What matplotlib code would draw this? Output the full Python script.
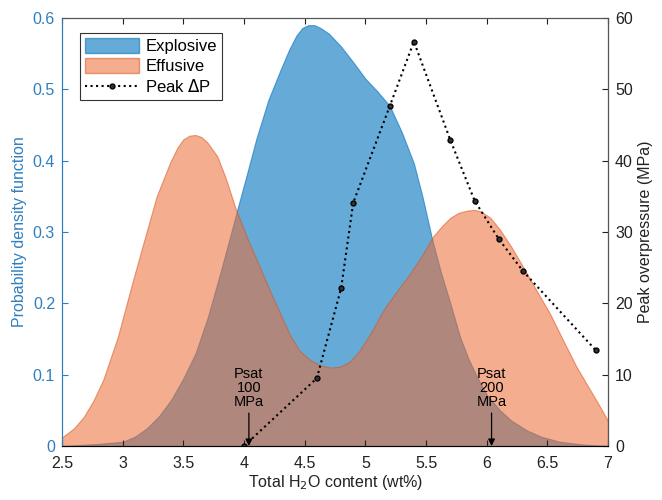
import matplotlib
matplotlib.use("Agg")
import matplotlib.pyplot as plt
from matplotlib.patches import Patch
from matplotlib.lines import Line2D

plt.rcParams['font.family'] = ['Liberation Sans', 'DejaVu Sans']
plt.rcParams['font.size'] = 11

# Explosive PDF
explosive_x = [2.5, 2.8, 3.0, 3.1, 3.2, 3.3, 3.4, 3.5, 3.6, 3.7, 3.8, 3.88, 3.95, 4.03, 4.1, 4.2,
               4.3, 4.37, 4.43, 4.48, 4.53, 4.58, 4.63, 4.7, 4.8, 4.9, 5.0, 5.1, 5.2, 5.3,
               5.4, 5.47, 5.55, 5.62, 5.7, 5.78, 5.85, 5.92, 6.0, 6.11, 6.2, 6.33, 6.45,
               6.6, 6.8, 7.0]
explosive_y = [0.0, 0.003, 0.006, 0.013, 0.025, 0.042, 0.065, 0.095, 0.13, 0.18, 0.24, 0.29,
               0.335, 0.385, 0.43, 0.485, 0.527, 0.555, 0.575, 0.586, 0.59, 0.59, 0.586,
               0.578, 0.56, 0.538, 0.515, 0.497, 0.477, 0.44, 0.396, 0.35, 0.29, 0.245,
               0.2, 0.153, 0.122, 0.097, 0.072, 0.05, 0.036, 0.022, 0.013, 0.006, 0.002, 0.0]

# Effusive PDF
effusive_x = [2.5, 2.6, 2.68, 2.76, 2.84, 2.96, 3.07, 3.17, 3.28, 3.39, 3.45, 3.5, 3.55, 3.6,
              3.65, 3.7, 3.78, 3.85, 3.93, 4.03, 4.13, 4.22, 4.3, 4.38, 4.46, 4.55, 4.63,
              4.71, 4.79, 4.87, 4.95, 5.05, 5.15, 5.26, 5.37, 5.47, 5.56, 5.63, 5.7, 5.77,
              5.84, 5.9, 5.95, 6.03, 6.11, 6.2, 6.3, 6.41, 6.52, 6.63, 6.74, 6.83, 6.9,
              7.0]
effusive_y = [0.012, 0.025, 0.041, 0.064, 0.093, 0.153, 0.223, 0.284, 0.35, 0.397, 0.418,
              0.43, 0.435, 0.436, 0.433, 0.425, 0.406, 0.375, 0.333, 0.29, 0.251, 0.215,
              0.185, 0.155, 0.133, 0.12, 0.113, 0.11, 0.111, 0.118, 0.133, 0.16, 0.191,
              0.217, 0.242, 0.268, 0.294, 0.308, 0.32, 0.327, 0.330, 0.331, 0.329, 0.32,
              0.303, 0.28, 0.251, 0.218, 0.186, 0.148, 0.111, 0.085, 0.065, 0.035]

# Peak overpressure
dp_x = [4.0, 4.6, 4.8, 4.9, 5.2, 5.4, 5.7, 5.9, 6.1, 6.3, 6.9]
dp_y = [0.0, 9.5, 22.1, 34.1, 47.6, 56.7, 42.9, 34.4, 29.0, 24.5, 13.4]

xticks = [2.5, 3, 3.5, 4, 4.5, 5, 5.5, 6, 6.5, 7]
xticklabels = ['2.5', '3', '3.5', '4', '4.5', '5', '5.5', '6', '6.5', '7']

psat_x = [4.04, 6.04]
psat_labels = ['Psat\n100\nMPa', 'Psat\n200\nMPa']

blue = (0.0, 0.447, 0.741)
orange = (0.85, 0.325, 0.098)
orange_face = (0.93, 0.42, 0.2)
axis_blue = '#2f7fbf'

fig = plt.figure(figsize=(6.62, 5.0), dpi=100)
ax = fig.add_axes([0.0937, 0.108, 0.8248, 0.856])

ax.fill_between(explosive_x, explosive_y, 0, facecolor=blue, alpha=0.6,
                edgecolor=blue, linewidth=0.8)
ax.fill_between(effusive_x, effusive_y, 0, facecolor=orange_face, alpha=0.55,
                edgecolor=orange, linewidth=0.8)

ax.set_xlim(2.5, 7)
ax.set_ylim(0, 0.6)
ax.set_xticks(xticks)
ax.set_xticklabels(xticklabels)
ax.set_yticks([0, 0.1, 0.2, 0.3, 0.4, 0.5, 0.6])
ax.set_yticklabels(['0', '0.1', '0.2', '0.3', '0.4', '0.5', '0.6'])
ax.tick_params(axis='x', direction='in', top=True, length=4, colors='#222222',
               labelsize=11.5, pad=7)
ax.tick_params(axis='y', direction='in', length=4, colors=axis_blue, labelsize=11.5, pad=5)
ax.set_ylabel('Probability density function', color=axis_blue, fontsize=11.5)
ax.set_xlabel('Total H$_2$O content (wt%)', fontsize=11.5, color='#222222', labelpad=2)
for s in ['top', 'bottom']:
    ax.spines[s].set_color('#555555')
ax.spines['left'].set_color(axis_blue)

for px, lab in zip(psat_x, psat_labels):
    ax.annotate(lab, xy=(px, 0), xytext=(px, 0.052), ha='center', va='bottom',
                fontsize=10.5, linespacing=1.0,
                arrowprops=dict(arrowstyle='-|>', color='k', lw=0.9,
                                shrinkA=1, shrinkB=0, mutation_scale=10))

ax2 = ax.twinx()
ax2.plot(dp_x, dp_y, linestyle=':', color='k', linewidth=1.5, marker='o',
         markersize=3.5, markerfacecolor='#333333', markeredgecolor='k')
ax2.set_ylim(0, 60)
ax2.set_yticks([0, 10, 20, 30, 40, 50, 60])
ax2.tick_params(axis='y', direction='in', length=4, colors='#222222', labelsize=11.5, pad=5)
ax2.set_ylabel('Peak overpressure (MPa)', fontsize=11.5, color='#222222')
ax2.spines['right'].set_color('#555555')
ax2.spines['left'].set_color(axis_blue)
ax2.spines['top'].set_color('#555555')

handles = [Patch(facecolor=blue, alpha=0.6, edgecolor=blue),
           Patch(facecolor=orange_face, alpha=0.55, edgecolor=orange),
           Line2D([], [], linestyle=':', color='k', linewidth=1.5, marker='o',
                  markersize=3.5, markerfacecolor='#333333', markeredgecolor='k')]
leg = ax2.legend(handles, ['Explosive', 'Effusive', 'Peak $\\Delta$P'], loc='upper left',
                 bbox_to_anchor=(0.018, 0.985), fontsize=12, fancybox=False,
                 edgecolor='#333333', framealpha=1, handlelength=3.2, handleheight=1.0,
                 borderpad=0.3, labelspacing=0.25, handletextpad=0.4)
leg.get_frame().set_linewidth(0.8)

fig.savefig('out.png', dpi=100)
